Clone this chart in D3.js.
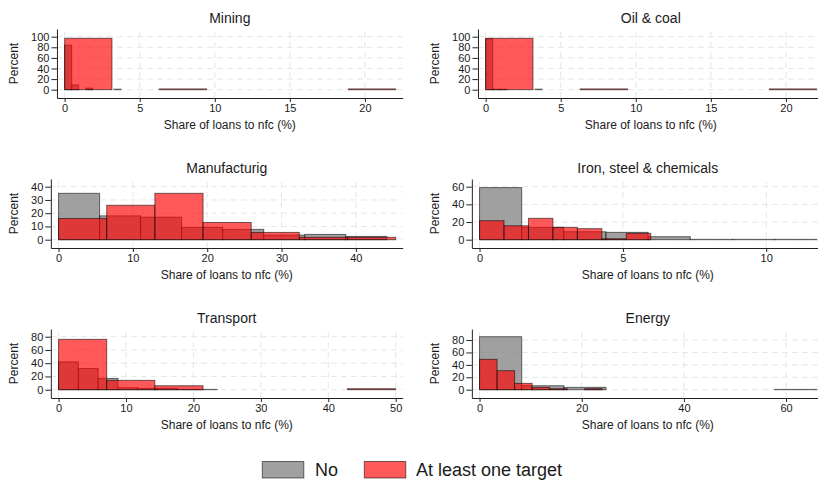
<!DOCTYPE html>
<html>
<head>
<meta charset="utf-8">
<script src="https://cdn.jsdelivr.net/npm/d3@7"></script>
<style>
  html, body { margin: 0; padding: 0; background: #fff; }
  svg { display: block; font-family: "Liberation Sans", Arial, Helvetica, sans-serif; }
</style>
</head>
<body>
<svg id="chart" width="818" height="480"></svg>
<script>
// ---------- DATA ----------
const panelTitles = ["Mining", "Oil & coal", "Manufacturig", "Iron, steel & chemicals", "Transport", "Energy"];
const seriesNames = ["No", "At least one target"];
const xTitle = "Share of loans to nfc (%)";
const yTitle = "Percent";

// bin widths (share of loans, %)
const noBinWidth     = [0.469, 0.469, 5.52, 1.47, 2.94, 8.25];
const targetBinWidth = [3.15, 3.15, 6.48, 0.853, 7.14, 3.43];

// percent per bin, "No" group
const miningNo    = [84, 9, 0, 3, 0, 0, 0, 1];
const oilNo       = [96, 1, 1, 0, 0, 0, 0, 1];
const manufNo     = [35, 18, 17, 9.3, 7.8, 3.5, 4, 2.5];
const ironNo      = [59, 14, 9, 8.3, 3.4, 0.4, 0.4, 0.4];
const transportNo = [42, 32, 17, 3, 2, 2, 0.5, 0.5];
const energyNo    = [85.4, 6.4, 3.8, 0, 0, 0, 0, 0.5];

// percent per bin, "At least one target" group
const miningTarget    = [97, 0, 1.5, 0, 0, 0, 1.5];
const oilTarget       = [97, 0, 1.5, 0, 0, 0, 1.5];
const manufTarget     = [16, 26, 35, 13, 5.5, 1.8, 1.8];
const ironTarget      = [21.5, 15.8, 24.2, 14, 12.5, 1.1, 7.2];
const transportTarget = [76, 14.1, 6, 0, 0, 0, 1.5];
const energyTarget    = [48.9, 30.6, 10.2, 3.8, 1.6, 0, 1.6];

// tick labels
const yTicksList = [[0, 20, 40, 60, 80, 100], [0, 20, 40, 60, 80, 100], [0, 10, 20, 30, 40], [0, 20, 40, 60], [0, 20, 40, 60, 80], [0, 20, 40, 60, 80]];
const xTicksList = [[0, 5, 10, 15, 20], [0, 5, 10, 15, 20], [0, 10, 20, 30, 40], [0, 5, 10], [0, 10, 20, 30, 40, 50], [0, 20, 40, 60]];

const noSeries = [miningNo, oilNo, manufNo, ironNo, transportNo, energyNo];
const targetSeries = [miningTarget, oilTarget, manufTarget, ironTarget, transportTarget, energyTarget];

// ---------- STYLE / LAYOUT ----------
const grayFill = "#808080", grayOpacity = 0.75;
const redFill = "#ff0000", redOpacity = 0.65;
const barStroke = "#000", barStrokeOpacity = 0.55;
const textColor = "#1a1a1a";
const colOffset = 421;
const rowZero = [89.7, 239.7, 389.7];   // pixel y of value 0 in each row
const dataHeight = 53, padBelow = 8.3, padAbove = 7.7;
const padLeft = 7.7, padRight = 7;
const rightEnd = 402.7;

const svg = d3.select("#chart");

function makeBins(values, width) {
  return values.map((v, i) => ({ x0: i * width, x1: (i + 1) * width, v })).filter(d => d.v > 0);
}

panelTitles.forEach((title, p) => {
  const col = p % 2, row = Math.floor(p / 2);
  const ox = col * colOffset;
  const y0 = rowZero[row];
  const yTicks = yTicksList[p], xTicks = xTicksList[p];
  const noBins = makeBins(noSeries[p], noBinWidth[p]);
  const tBins = makeBins(targetSeries[p], targetBinWidth[p]);

  const g = svg.append("g");

  // measure y tick labels to place the y axis
  const meas = g.append("text").attr("font-size", 11).text(String(d3.max(yTicks)));
  const labW = meas.node().getComputedTextLength();
  meas.remove();
  const axisX = ox + 31 + labW + 7.6;
  const axisR = ox + rightEnd;

  const yMax = Math.max(d3.max(yTicks), d3.max(noBins.concat(tBins), d => d.v));
  const k = yMax / dataHeight;
  const y = d3.scaleLinear().domain([-padBelow * k, yMax + padAbove * k]).range([y0 + padBelow, y0 - dataHeight - padAbove]);

  const xMax = Math.max(d3.max(noBins.concat(tBins), d => d.x1), d3.max(xTicks));
  const span = (axisR - padRight) - (axisX + padLeft);
  const kx = xMax / span;
  const x = d3.scaleLinear().domain([-padLeft * kx, xMax + padRight * kx]).range([axisX, axisR]);

  // gridlines
  const grid = g.append("g").attr("stroke", "#e6e6e6").attr("stroke-width", 1).attr("stroke-dasharray", "6,4");
  grid.selectAll("line.h").data(yTicks).join("line").attr("class", "h")
    .attr("x1", axisX).attr("x2", axisR).attr("y1", d => y(d)).attr("y2", d => y(d));
  grid.selectAll("line.v").data(xTicks).join("line").attr("class", "v")
    .attr("x1", d => x(d)).attr("x2", d => x(d)).attr("y1", y.range()[0]).attr("y2", y.range()[1]);

  // bars: "No" first, then "At least one target"
  g.append("g").selectAll("rect").data(noBins).join("rect")
    .attr("x", d => x(d.x0)).attr("width", d => x(d.x1) - x(d.x0))
    .attr("y", d => y(d.v)).attr("height", d => y(0) - y(d.v))
    .attr("fill", grayFill).attr("fill-opacity", grayOpacity)
    .attr("stroke", barStroke).attr("stroke-opacity", barStrokeOpacity).attr("stroke-width", 1);
  g.append("g").selectAll("rect").data(tBins).join("rect")
    .attr("x", d => x(d.x0)).attr("width", d => x(d.x1) - x(d.x0))
    .attr("y", d => y(d.v)).attr("height", d => y(0) - y(d.v))
    .attr("fill", redFill).attr("fill-opacity", redOpacity)
    .attr("stroke", barStroke).attr("stroke-opacity", barStrokeOpacity).attr("stroke-width", 1);

  // axes
  const ya = g.append("g").attr("transform", `translate(${axisX},0)`)
    .call(d3.axisLeft(y).tickValues(yTicks).tickSize(5.5).tickPadding(2).tickSizeOuter(0));
  const xa = g.append("g").attr("transform", `translate(0,${y.range()[0]})`)
    .call(d3.axisBottom(x).tickValues(xTicks).tickSize(4).tickPadding(2.5).tickSizeOuter(0));
  [ya, xa].forEach(a => {
    a.attr("font-family", null).attr("font-size", 11);
    a.selectAll("text").attr("fill", textColor);
    a.selectAll("line").attr("stroke", "#222");
    a.select(".domain").attr("stroke", "#222");
  });

  // titles
  g.append("text").attr("x", (axisX + axisR) / 2).attr("y", y0 - 66.4)
    .attr("text-anchor", "middle").attr("font-size", 14).attr("fill", textColor).text(title);
  const xMid = col === 0 ? (axisX + axisR) / 2 : (axisX + ox + 402.7) / 2;
  g.append("text").attr("x", xMid).attr("y", y.range()[0] + 30.5)
    .attr("text-anchor", "middle").attr("font-size", 12).attr("fill", textColor).text(xTitle);
  const yMid = (y.range()[0] + y.range()[1]) / 2;
  g.append("text").attr("transform", `translate(${ox + 17.6},${yMid}) rotate(-90)`)
    .attr("text-anchor", "middle").attr("font-size", 12).attr("fill", textColor).text(yTitle);
});

// legend
const legendItems = [
  { name: seriesNames[0], fill: grayFill, op: grayOpacity, bx: 262.3, tx: 315 },
  { name: seriesNames[1], fill: redFill, op: redOpacity, bx: 364.3, tx: 416 }
];
const lg = svg.append("g");
legendItems.forEach(it => {
  lg.append("rect").attr("x", it.bx).attr("y", 461.5).attr("width", 41.5).attr("height", 16.5)
    .attr("fill", it.fill).attr("fill-opacity", it.op)
    .attr("stroke", barStroke).attr("stroke-opacity", barStrokeOpacity);
  lg.append("text").attr("x", it.tx).attr("y", 475.5).attr("font-size", 18).attr("fill", textColor).text(it.name);
});
</script>
</body>
</html>
